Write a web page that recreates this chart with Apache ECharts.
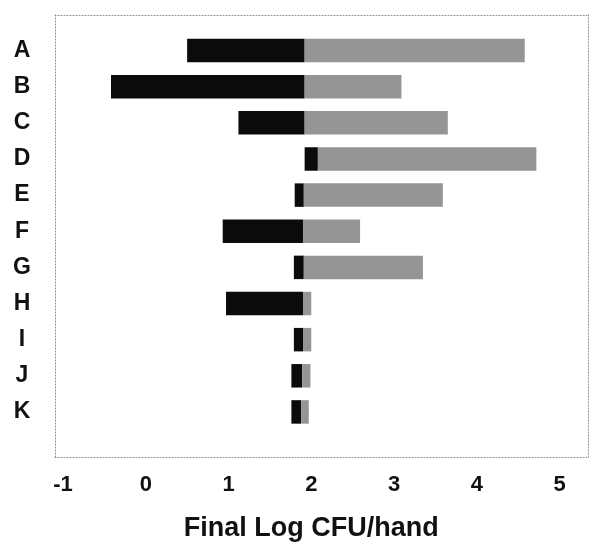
<!DOCTYPE html>
<html>
<head>
<meta charset="utf-8">
<script src="https://cdn.jsdelivr.net/npm/echarts@6/dist/echarts.min.js"></script>
<style>
  html, body { margin: 0; padding: 0; background: #fff; }
  #chart { width: 592px; height: 547px; }
</style>
</head>
<body>
<div id="chart"></div>
<script>
// Categories, top to bottom
const categories = ['A', 'B', 'C', 'D', 'E', 'F', 'G', 'H', 'I', 'J', 'K'];
// Dark segment: from blackStart to blackEnd (Log CFU/hand)
const blackStart = [0.50, -0.42, 1.12, 1.92, 1.80, 0.93, 1.79, 0.97, 1.79, 1.76, 1.76];
const blackEnd   = [1.92, 1.92, 1.92, 2.08, 1.91, 1.90, 1.91, 1.90, 1.90, 1.89, 1.88];
// Grey segment: from blackEnd to greyEnd
const greyEnd    = [4.58, 3.09, 3.65, 4.72, 3.59, 2.59, 3.35, 2.00, 2.00, 1.99, 1.97];
// Value-axis extent and step
const xMin = -1, xMax = 5, xStep = 1;

const FONT = 'Liberation Sans';

const blackData = categories.map((c, i) => [i, blackStart[i], blackEnd[i]]);
const greyData = categories.map((c, i) => [i, blackEnd[i], greyEnd[i]]);

function rangeBar(color) {
  return function (params, api) {
    const idx = api.value(0);
    const a = api.coord([api.value(1), idx]);
    const b = api.coord([api.value(2), idx]);
    const h = api.size([0, 1])[1] * 0.65;
    return {
      type: 'rect',
      shape: { x: a[0], y: a[1] - h / 2, width: b[0] - a[0], height: h },
      style: { fill: color }
    };
  };
}

// Dotted frame drawn by four bare axes around the second grid
const frameLine = { show: true, onZero: false, lineStyle: { color: '#8a8a8a', width: 1, type: [1, 2] } };
const hidden = { axisTick: { show: false }, axisLabel: { show: false }, splitLine: { show: false } };

const chart = echarts.init(document.getElementById('chart'), null, { renderer: 'canvas' });
chart.setOption({
  backgroundColor: '#ffffff',
  animation: false,
  grid: [
    { left: 63, right: 32.5, top: 32.5, height: 407 },
    { left: 55, right: 4, top: 15, bottom: 90 }
  ],
  xAxis: [
    {
      gridIndex: 0, type: 'value', min: xMin, max: xMax, interval: xStep,
      axisLine: { show: false }, axisTick: { show: false }, splitLine: { show: false },
      axisLabel: { margin: 44, color: '#111', fontFamily: FONT, fontWeight: 'bold', fontSize: 22 },
      name: 'Final Log CFU/hand', nameLocation: 'middle', nameGap: 85,
      nameTextStyle: { color: '#111', fontFamily: FONT, fontWeight: 'bold', fontSize: 27 }
    },
    Object.assign({ gridIndex: 1, type: 'value', min: 0, max: 1, position: 'bottom', axisLine: frameLine }, hidden),
    Object.assign({ gridIndex: 1, type: 'value', min: 0, max: 1, position: 'top', axisLine: frameLine }, hidden)
  ],
  yAxis: [
    {
      gridIndex: 0, type: 'category', data: categories, inverse: true,
      axisLine: { show: false }, axisTick: { show: false },
      axisLabel: { margin: 41, align: 'center', color: '#111', fontFamily: FONT, fontWeight: 'bold', fontSize: 23 }
    },
    Object.assign({ gridIndex: 1, type: 'value', min: 0, max: 1, position: 'left', axisLine: frameLine }, hidden),
    Object.assign({ gridIndex: 1, type: 'value', min: 0, max: 1, position: 'right', axisLine: frameLine }, hidden)
  ],
  series: [
    {
      name: 'dark', type: 'custom', xAxisIndex: 0, yAxisIndex: 0,
      renderItem: rangeBar('#0b0b0b'), encode: { x: [1, 2], y: 0 }, data: blackData
    },
    {
      name: 'grey', type: 'custom', xAxisIndex: 0, yAxisIndex: 0,
      renderItem: rangeBar('#959595'), encode: { x: [1, 2], y: 0 }, data: greyData
    }
  ]
});
</script>
</body>
</html>
